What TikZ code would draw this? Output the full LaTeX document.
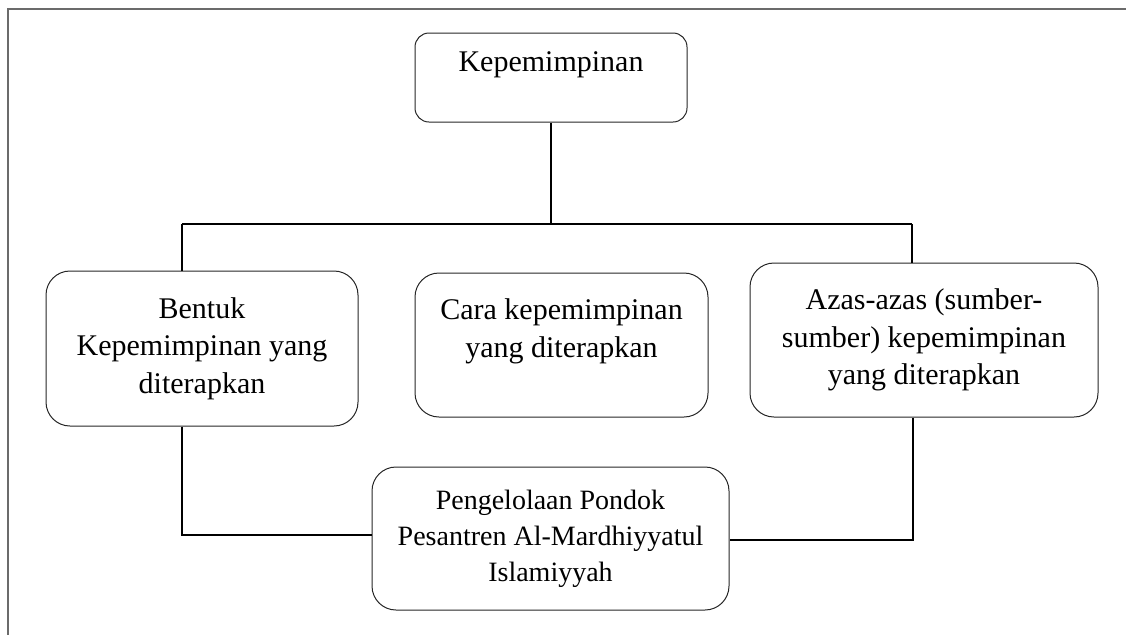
\documentclass[tikz,border=0pt]{standalone}
\usepackage{fontspec}
\setmainfont{Liberation Serif}
\begin{document}
\begin{tikzpicture}[x=0.5pt,y=-0.5pt]
\tikzset{
  box/.style={draw=black!85, line width=0.5pt, rounded corners=12pt, inner sep=0pt, align=center, font=\fontsize{15}{18.75}\selectfont},
  lbl/.style={inner sep=0pt, align=center, font=\fontsize{15}{18.75}\selectfont},
  conn/.style={draw=black, line width=0.9pt},
  frame/.style={draw=black!58, line width=1pt}
}
\useasboundingbox (0,0) rectangle (1126,634);
% frame
\coordinate (fbl) at (8,640);
\coordinate (ftl) at (8,8.5);
\coordinate (ftr) at (1130,8.5);
\draw[frame] (fbl) -- (ftl) -- (ftr);
% boxes
\node[box, rounded corners=7pt, minimum width=136pt, minimum height=44.5pt] (top) at (551,77.5) {};
\node[lbl] (toptxt) at (551,65) {Kepemimpinan};
\node[box, minimum width=156pt, minimum height=77.5pt] (left) at (202,348.5) {Bentuk\\Kepemimpinan yang\\diterapkan};
\node[box, minimum width=146.5pt, minimum height=72pt] (mid) at (561.5,345) {};
\node[lbl] (midtxt) at (561.5,331.5) {Cara kepemimpinan\\yang diterapkan};
\node[box, minimum width=174pt, minimum height=77pt] (right) at (924,340) {Azas-azas (sumber-\\sumber) kepemimpinan\\yang diterapkan};
\node[box, minimum width=178.5pt, minimum height=71.5pt, font=\fontsize{14}{18}\selectfont] (bottom) at (550.5,538.5) {Pengelolaan Pondok\\Pesantren Al-Mardhiyyatul\\Islamiyyah};
% connectors
\coordinate (hl) at (182,224);
\coordinate (hr) at (912,224);
\coordinate (bl) at (182,535);
\coordinate (br) at (913,540);
\draw[conn] (top.south) -- (top.south |- hl);
\draw[conn] (hl) -- (hr);
\draw[conn] (hl) -- (hl |- left.north);
\draw[conn] (hr) -- (hr |- right.north);
\draw[conn] (bl |- left.south) -- (bl) -- (bl -| bottom.west);
\draw[conn] (br |- right.south) -- (br) -- (br -| bottom.east);
\end{tikzpicture}
\end{document}
